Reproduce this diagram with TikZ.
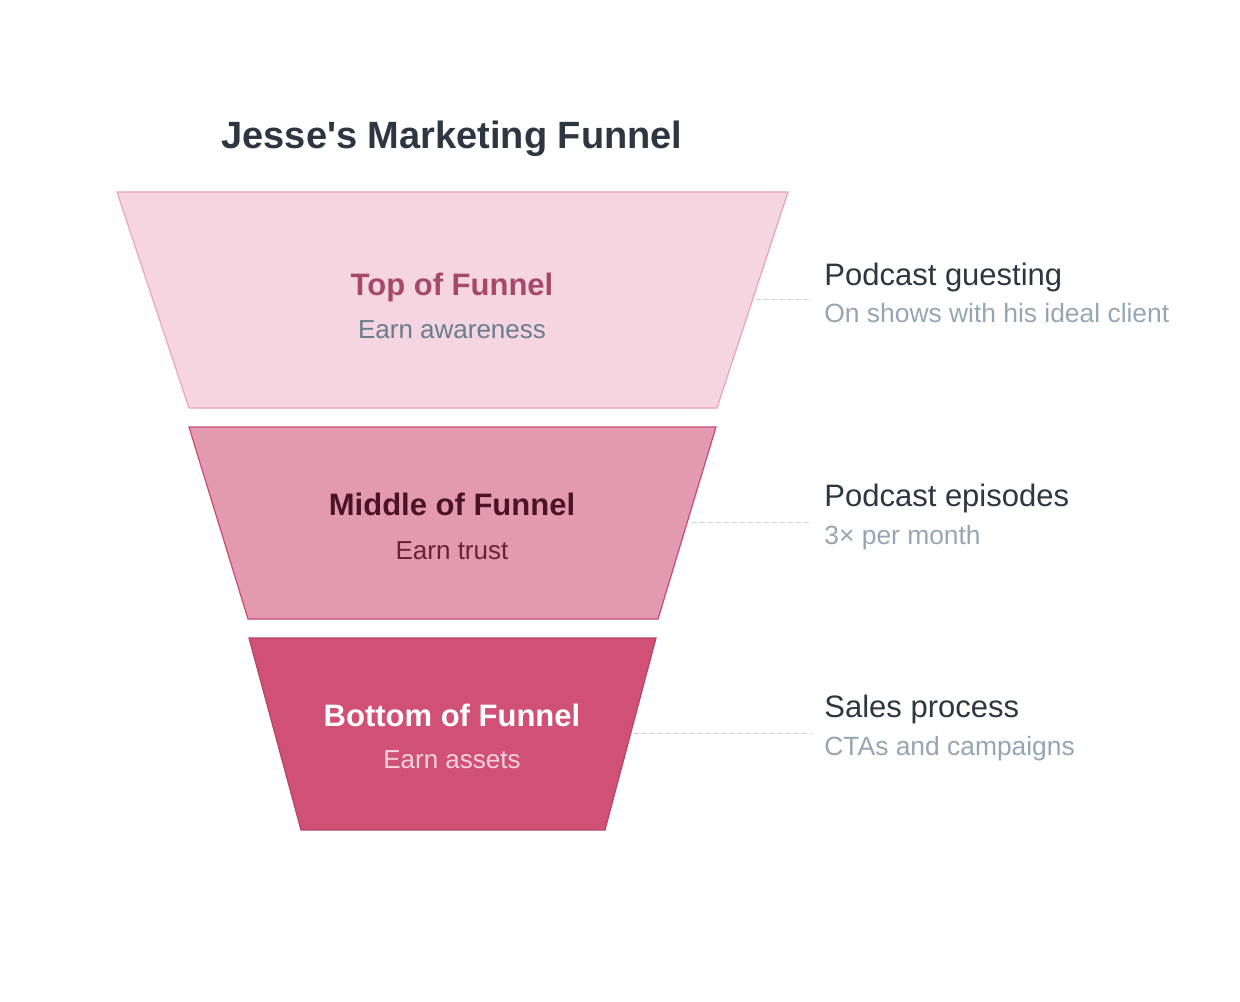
\documentclass[tikz,border=0pt]{standalone}
\usepackage{fontspec}
\setmainfont{Liberation Sans}
\definecolor{ink}{HTML}{2D3641}
\definecolor{mist}{HTML}{95A5B4}
\definecolor{dashgray}{HTML}{C9D0D7}
\definecolor{topfill}{HTML}{F4D5E0}
\definecolor{topline}{HTML}{E9A2BA}
\definecolor{topname}{HTML}{A6486A}
\definecolor{topnote}{HTML}{6A7D8E}
\definecolor{midfill}{HTML}{E399B0}
\definecolor{midline}{HTML}{C94A72}
\definecolor{midname}{HTML}{4A1426}
\definecolor{midnote}{HTML}{6B2038}
\definecolor{botfill}{HTML}{D05076}
\definecolor{botline}{HTML}{B84468}
\definecolor{botnote}{HTML}{F6D2DE}
\tikzstyle{stagename}=[anchor=base, inner sep=0, font=\fontsize{15.5}{18}\selectfont\bfseries]
\tikzstyle{stagenote}=[anchor=base, inner sep=0, font=\fontsize{13}{16}\selectfont]
\tikzstyle{sidename}=[anchor=base west, inner sep=0, text=ink, font=\fontsize{15.5}{19}\selectfont]
\tikzstyle{sidenote}=[anchor=base west, inner sep=0, text=mist, font=\fontsize{13.2}{16}\selectfont]
\tikzstyle{leader}=[dashgray, line width=0.5pt, dash pattern=on 2.5pt off 1.5pt]

\begin{document}
\begin{tikzpicture}[x=0.5pt, y=-0.5pt]
\useasboundingbox (0,0) rectangle (1240,1001);
% Title
    \node[anchor=base, inner sep=0, text=ink, font=\fontsize{19}{23}\selectfont\bfseries] (title) at (452,148) {Jesse\textquotesingle s Marketing Funnel};
% Funnel stages
    \draw[fill=topfill, draw=topline, line width=0.6pt] (117,192) -- (788,192) -- (717,408) -- (189,408) -- cycle;
    \draw[fill=midfill, draw=midline, line width=0.6pt] (189,427) -- (716,427) -- (658,619) -- (248,619) -- cycle;
    \draw[fill=botfill, draw=botline, line width=0.6pt] (249,638) -- (656,638) -- (605,830) -- (301,830) -- cycle;
% Stage texts
    \node[stagename, text=topname] (topname) at (452,295) {Top of Funnel};
    \node[stagenote, text=topnote] (topnote) at (452,338) {Earn awareness};
    \node[stagename, text=midname] (midname) at (452,515) {Middle of Funnel};
    \node[stagenote, text=midnote] (midnote) at (452,559) {Earn trust};
    \node[stagename, text=white] (botname) at (452,726) {Bottom of Funnel};
    \node[stagenote, text=botnote] (botnote) at (452,768) {Earn assets};
% Side notes
    \node[sidename] (guesting) at (824,285) {Podcast guesting};
    \node[sidenote] (guestingnote) at (824,322) {On shows with his ideal client};
    \node[sidename] (episodes) at (824,506) {Podcast episodes};
    \node[sidenote] (episodesnote) at (824,544) {3× per month};
    \node[sidename] (sales) at (824,717) {Sales process};
    \node[sidenote] (salesnote) at (824,755) {CTAs and campaigns};
% Leaders
    \coordinate (topedge) at (756,299);
    \coordinate (topend) at (812,299);
    \coordinate (midedge) at (692,522);
    \coordinate (midend) at (812,522);
    \coordinate (botedge) at (634,733);
    \coordinate (botend) at (812,733);
    \draw[leader] (topedge) -- (topend);
    \draw[leader] (midedge) -- (midend);
    \draw[leader] (botedge) -- (botend);
\end{tikzpicture}
\end{document}
